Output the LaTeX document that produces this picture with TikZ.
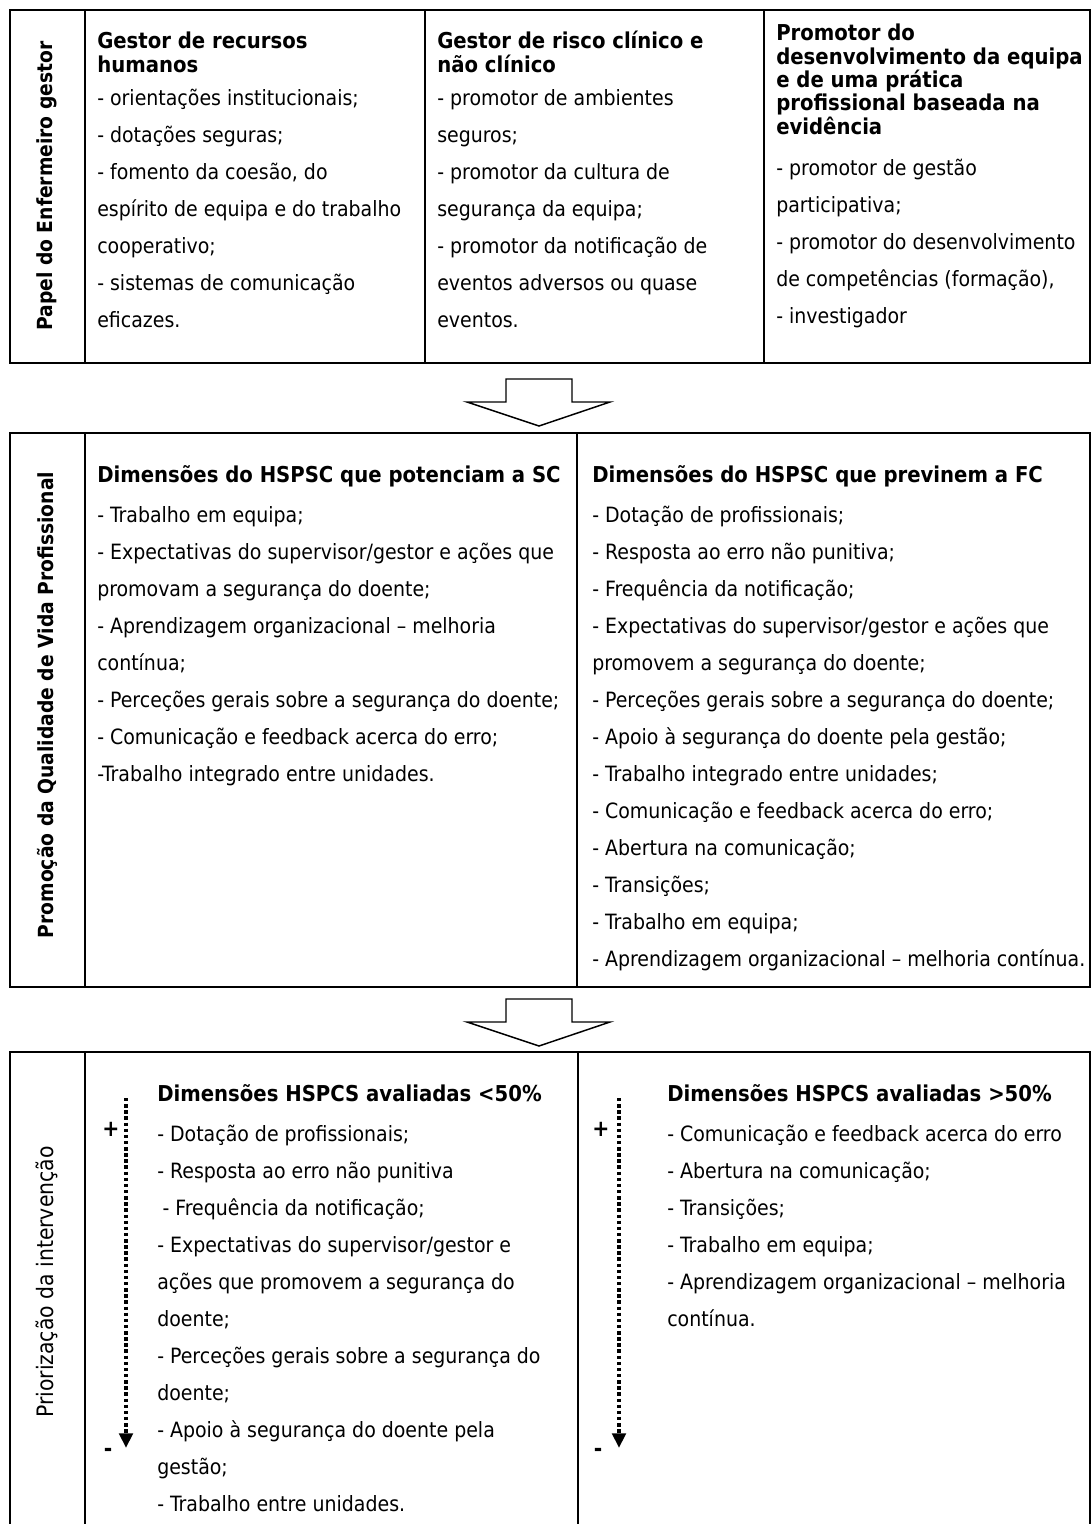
\documentclass[tikz,border=0pt]{standalone}
\usepackage{fontspec}
\setmainfont{DejaVu Sans Condensed}
\usetikzlibrary{arrows.meta}

% lines are anchored at the baseline of their LAST line
\tikzset{
  box/.style={line width=1.5pt},
  txt/.style={anchor=base west, inner sep=0pt, align=left, font=\fontsize{15.8}{27.75}\selectfont},
  ttl/.style={anchor=base west, inner sep=0pt, align=left, font=\fontsize{16.4}{17.5}\selectfont\bfseries},
  side/.style={rotate=90, inner sep=0pt, font=\fontsize{15.6}{18}\selectfont\bfseries},
  bigarrow/.style={line width=1.1pt, line join=miter},
  prio/.style={line width=3pt, dash pattern=on 2.6pt off 2pt, -{Triangle[length=11pt,width=10pt]}},
  sign/.style={inner sep=0pt, font=\fontsize{17}{17}\selectfont\bfseries}
}

\begin{document}
\begin{tikzpicture}[x=0.75pt, y=-0.75pt]
\useasboundingbox (0,0) rectangle (1092,1524);

%% box 1 -- papel do enfermeiro gestor
\draw[box] (10,10) rectangle (1090,363);
\draw[box] (85,10) -- (85,363);
\draw[box] (425,10) -- (425,363);
\draw[box] (764,10) -- (764,363);
\node[side] (papel) at (47,186) {Papel do Enfermeiro gestor};

\node[ttl] (rhT) at (97,72.3) {Gestor de recursos\\humanos};
\node[txt] (rhL) at (97,327) {- orientações institucionais;\\- dotações seguras;\\- fomento da coesão, do\\espírito de equipa e do trabalho\\cooperativo;\\- sistemas de comunicação\\eficazes.};

\node[ttl] (riscoT) at (437,72.3) {Gestor de risco clínico e\\não clínico};
\node[txt] (riscoL) at (437,327) {- promotor de ambientes\\seguros;\\- promotor da cultura de\\segurança da equipa;\\- promotor da notificação de\\eventos adversos ou quase\\eventos.};

\node[ttl] (promT) at (776,134) {Promotor do\\desenvolvimento da equipa\\e de uma prática\\profissional baseada na\\evidência};
\node[txt] (promL) at (776,323) {- promotor de gestão\\participativa;\\- promotor do desenvolvimento\\de competências (formação),\\- investigador};

%% arrow 1
\draw[bigarrow, shift={(0,379)}] (506,0) -- (506,23) -- (467,23) -- (539,47) -- (610,23) -- (572,23) -- (572,0) -- cycle;

%% box 2 -- qualidade de vida profissional
\draw[box] (10,433) rectangle (1090,987);
\draw[box] (85,433) -- (85,987);
\draw[box] (577,433) -- (577,987);
\node[side] (qvp) at (47,705) {Promoção da Qualidade de Vida Profissional};

\node[ttl] (scT) at (97,482.7) {Dimensões do HSPSC que potenciam a SC};
\node[txt] (scL) at (97,781.7) {- Trabalho em equipa;\\- Expectativas do supervisor/gestor e ações que\\promovam a segurança do doente;\\- Aprendizagem organizacional – melhoria\\contínua;\\- Perceções gerais sobre a segurança do doente;\\- Comunicação e feedback acerca do erro;\\-Trabalho integrado entre unidades.};

\node[ttl] (fcT) at (592,482.7) {Dimensões do HSPSC que previnem a FC};
\node[txt] (fcL) at (592,966.7) {- Dotação de profissionais;\\- Resposta ao erro não punitiva;\\- Frequência da notificação;\\- Expectativas do supervisor/gestor e ações que\\promovem a segurança do doente;\\- Perceções gerais sobre a segurança do doente;\\- Apoio à segurança do doente pela gestão;\\- Trabalho integrado entre unidades;\\- Comunicação e feedback acerca do erro;\\- Abertura na comunicação;\\- Transições;\\- Trabalho em equipa;\\- Aprendizagem organizacional – melhoria contínua.};

%% arrow 2
\draw[bigarrow, shift={(0,999)}] (506,0) -- (506,23) -- (467,23) -- (539,47) -- (610,23) -- (572,23) -- (572,0) -- cycle;

%% box 3 -- priorizacao (open at the bottom)
\draw[box] (10,1524) -- (10,1052) -- (1090,1052) -- (1090,1524);
\draw[box] (85,1052) -- (85,1524);
\draw[box] (578,1052) -- (578,1524);
\node[side, font=\fontsize{17}{19}\selectfont] (prio) at (47,1282) {Priorização da intervenção};

\node[ttl] (menosT) at (157,1101.7) {Dimensões HSPCS avaliadas <50\%};
\node[txt] (menosL) at (157,1511.7) {- Dotação de profissionais;\\- Resposta ao erro não punitiva\\\hspace*{4pt}- Frequência da notificação;\\- Expectativas do supervisor/gestor e\\ações que promovem a segurança do\\doente;\\- Perceções gerais sobre a segurança do\\doente;\\- Apoio à segurança do doente pela\\gestão;\\- Trabalho entre unidades.};

\node[ttl] (maisT) at (667,1101.7) {Dimensões HSPCS avaliadas >50\%};
\node[txt] (maisL) at (667,1326.7) {- Comunicação e feedback acerca do erro\\- Abertura na comunicação;\\- Transições;\\- Trabalho em equipa;\\- Aprendizagem organizacional – melhoria\\contínua.};

%% priority arrows
\coordinate (esqTop) at (126,1098);
\coordinate (esqEnd) at (126,1448);
\draw[prio] (esqTop) -- (esqEnd);
\node[sign] (esqMais) at (111,1129) {+};
\node[sign] (esqMenos) at (108,1452) {-};

\coordinate (dirTop) at (619,1098);
\coordinate (dirEnd) at (619,1448);
\draw[prio] (dirTop) -- (dirEnd);
\node[sign] (dirMais) at (601,1129) {+};
\node[sign] (dirMenos) at (598,1452) {-};

\end{tikzpicture}
\end{document}
